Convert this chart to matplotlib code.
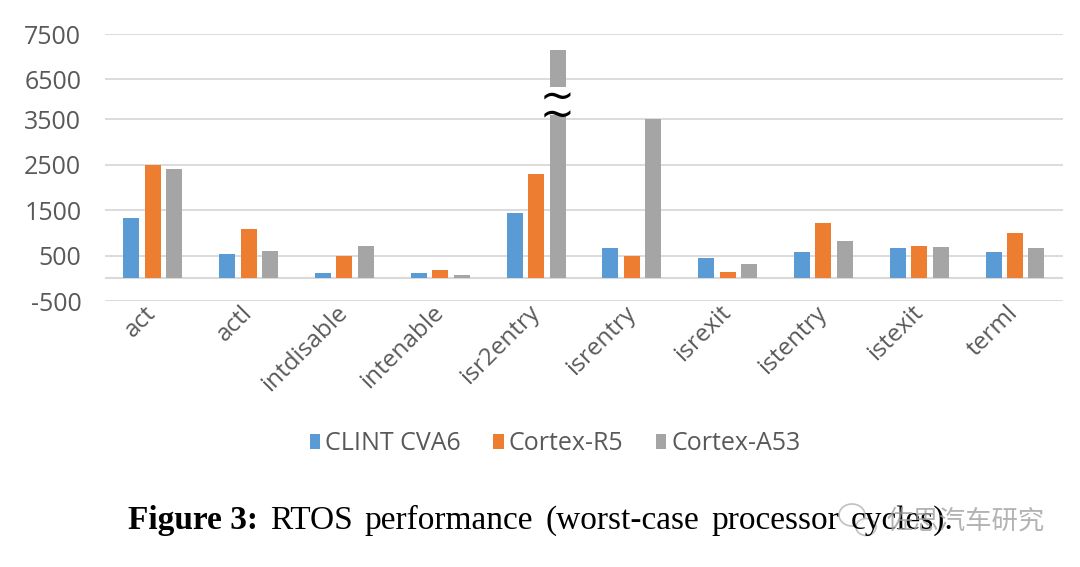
import numpy as np
import matplotlib
matplotlib.use('Agg')
import matplotlib.pyplot as plt
from matplotlib.patches import Ellipse

# values (worst-case processor cycles)
categories = ['act', 'actl', 'intdisable', 'intenable', 'isr2entry',
              'isrentry', 'isrexit', 'istentry', 'istexit', 'terml']
clint_cva6 = [1340, 530, 120, 120, 1450, 670, 450, 570, 670, 570]
cortex_r5 = [2500, 1080, 500, 180, 2290, 490, 140, 1220, 720, 990]
cortex_a53 = [2400, 600, 720, 70, 7150, 3560, 310, 830, 700, 670]
series_names = ['CLINT CVA6', 'Cortex-R5', 'Cortex-A53']
ytick_values = [-500, 500, 1500, 2500, 3500, 6500, 7500]
ytick_labels = ['-500', '500', '1500', '2500', '3500', '6500', '7500']

colors = ['#5B9BD5', '#ED7D31', '#A5A5A5']
grid_color = '#D9D9D9'
text_color = '#595959'

# broken axis: 3500..6500 squeezed
gap_lo, gap_hi, gap_len = 3500.0, 6500.0, 880.0


def fwd(v):
    v = np.asarray(v, dtype=float)
    mid = gap_lo + (v - gap_lo) * gap_len / (gap_hi - gap_lo)
    hi = v - gap_hi + gap_lo + gap_len
    return np.where(v <= gap_lo, v, np.where(v >= gap_hi, hi, mid))


def inv(d):
    d = np.asarray(d, dtype=float)
    top = gap_lo + gap_len
    mid = gap_lo + (d - gap_lo) * (gap_hi - gap_lo) / gap_len
    hi = d - top + gap_hi
    return np.where(d <= gap_lo, d, np.where(d >= top, hi, mid))


plt.rcParams['font.family'] = ['Open Sans', 'DejaVu Sans']

fig = plt.figure(figsize=(10.8, 5.67), dpi=100)
ax = fig.add_axes([0.0972, 0.469, 0.887, 0.471])
ax.set_yscale('function', functions=(fwd, inv))

x = np.arange(len(categories))
w = 0.167
off = 0.224
all_series = [clint_cva6, cortex_r5, cortex_a53]
for i, (vals, name) in enumerate(zip(all_series, series_names)):
    ax.bar(x + (i - 1) * off, vals, width=w, color=colors[i], label=name, zorder=3)

# break mark on the tall bar
k = int(np.argmax(cortex_a53))
xb = x[k] + off
span = gap_hi - gap_lo
ax.bar(xb, 0.7 * span, bottom=gap_lo + 0.12 * span, width=w * 1.05,
       color='white', zorder=4)
ax.text(xb, gap_lo + 0.33 * span, '~\n~', ha='center', va='center',
        fontsize=30, color='black', family='DejaVu Sans', linespacing=0.28,
        zorder=5)

ax.set_xlim(-0.5, len(categories) - 0.5)
ax.set_ylim(-500, 7500)
ax.set_yticks(ytick_values)
ax.set_yticklabels(ytick_labels)
ax.grid(axis='y', color=grid_color, linewidth=1.3, zorder=0)
ax.axhline(0, color=grid_color, linewidth=1.5, zorder=2)
for s in ax.spines.values():
    s.set_visible(False)
ax.tick_params(axis='y', length=0, pad=17, labelsize=18, labelcolor=text_color)
ax.set_xticks(x)
ax.set_xticklabels(categories, rotation=45, ha='right', va='center',
                   rotation_mode='anchor')
ax.tick_params(axis='x', length=0, pad=6, labelsize=17.5, labelcolor=text_color)

leg = fig.legend(loc='center', bbox_to_anchor=(0.514, 0.218), ncol=3,
                 frameon=False, fontsize=18, handlelength=0.42,
                 handleheight=0.55, handletextpad=0.2, columnspacing=1.3)
for t in leg.get_texts():
    t.set_color(text_color)

# caption, words spread like the justified original
fig.canvas.draw()
r = fig.canvas.get_renderer()
base_y = 1 - 529 / 567
t1 = fig.text(128 / 1080, base_y, 'Figure 3:', fontsize=24,
              fontweight='bold', family='Liberation Serif', va='baseline')
xpos = t1.get_window_extent(renderer=r).x1
words = ['RTOS', 'performance', '(worst-case', 'processor', 'cycles).']
for wd in words:
    xpos += 12
    tw = fig.text(xpos / 1080, base_y, wd, fontsize=24,
                  family='Liberation Serif', va='baseline')
    xpos = tw.get_window_extent(renderer=r).x1

# watermark (wechat-like bubbles + account name)
for cx, cy, ew, eh in [(852, 515, 26, 22), (866, 527, 20, 17)]:
    fig.add_artist(Ellipse((cx / 1080, 1 - cy / 567), ew / 1080, eh / 567,
                           transform=fig.transFigure, facecolor='white',
                           edgecolor='#b5b5b5', linewidth=1.2, alpha=0.85))
fig.text(1045 / 1080, 1 - 521 / 567, '佐思汽车研究', fontsize=19,
         family=['Noto Sans CJK SC', 'DejaVu Sans'], color='#a0a0a0',
         alpha=0.8, ha='right', va='center')

fig.savefig('out.png', dpi=100)
